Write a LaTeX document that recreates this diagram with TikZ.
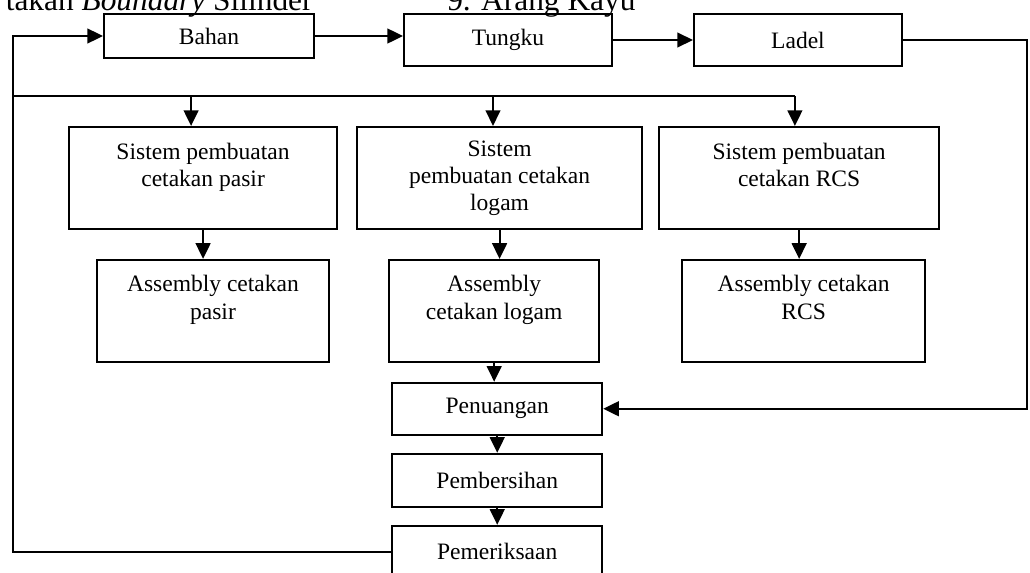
\documentclass[tikz,border=0pt,12pt]{standalone}
\usepackage{fontspec}
\setmainfont{Liberation Serif}
\usepackage{tikz}
\usetikzlibrary{arrows.meta, positioning}
\tikzset{
    boxnode/.style = {draw, rectangle, line width=1pt, fill=none, inner sep=0.2em, 
      node distance=0em, align=center, font=\fontsize{12}{13.8}\selectfont},
    textnode/.style  = {draw=none, fill=none, rectangle, inner sep=0em, 
      node distance=0em, font=\fontsize{16}{19}\selectfont},
    connect/.style = {black, line width=1.1pt, -{Triangle[length=8pt, width=7.5pt]}},
    plainline/.style = {black, line width=1.1pt}
}

\begin{document}
\begin{tikzpicture}
    \useasboundingbox (-8.88em,1.53em) rectangle (34.89em,-22.78em);
    \clip (-8.88em,1.53em) rectangle (34.89em,-22.78em);

    \node [name=judul1, textnode, anchor=base east] at (4.42em,1.1em) {takan \textit{Boundary} Silinder};
    \node [name=judul2, textnode, anchor=base west] at (10.11em,1.1em) {9. Arang Kayu};

    \node [name=bahan, boxnode, minimum width=8.92em, minimum height=1.87em] at (0,0) {Bahan};
    \node [name=tungku, boxnode, minimum width=8.84em, minimum height=2.21em, 
        right of = bahan, xshift=12.71em, yshift=-0.17em] {Tungku};
    \node [name=ladel, boxnode, minimum width=8.84em, minimum height=2.25em, 
        right of = tungku, xshift=12.32em] {Ladel};

    \node [name=sislogam, boxnode, minimum width=12.11em, minimum height=4.33em, 
        below of = tungku, xshift=-0.36em, yshift=-5.86em] {Sistem\\pembuatan cetakan\\logam};
    \node [name=sispasir, boxnode, minimum width=11.39em, minimum height=4.33em, 
        left of = sislogam, xshift=-12.6em] {Sistem pembuatan\\cetakan pasir\\~};
    \node [name=sisrcs, boxnode, minimum width=11.9em, minimum height=4.33em, 
        right of = sislogam, xshift=12.73em] {Sistem pembuatan\\cetakan RCS\\~};

    \node [name=asmpasir, boxnode, minimum width=9.86em, minimum height=4.33em, 
        below of = sispasir, xshift=0.42em, yshift=-5.65em] {Assembly cetakan\\pasir\\~};
    \node [name=asmlogam, boxnode, minimum width=8.92em, minimum height=4.33em, 
        below of = sislogam, xshift=-0.23em, yshift=-5.65em] {Assembly\\cetakan logam\\~};
    \node [name=asmrcs, boxnode, minimum width=10.33em, minimum height=4.33em, 
        below of = sisrcs, xshift=0.19em, yshift=-5.65em] {Assembly cetakan\\RCS\\~};

    \node [name=penuangan, boxnode, minimum width=8.92em, minimum height=2.21em, 
        below of = asmlogam, xshift=0.13em, yshift=-4.16em] {Penuangan};
    \node [name=pembersihan, boxnode, minimum width=8.92em, minimum height=2.25em, 
        below of = penuangan, yshift=-3.04em] {Pembersihan};
    \node [name=pemeriksaan, boxnode, minimum width=8.92em, minimum height=2.21em, 
        below of = pembersihan, yshift=-3.04em] {Pemeriksaan};

    \coordinate (lkiri) at (-8.33em,-2.55em);
    \coordinate (lpasir) at (-0.76em,-2.55em);
    \coordinate (llogam) at (12.07em,-2.55em);
    \coordinate (lrcs) at (24.9em,-2.55em);
    \coordinate (kanan) at (34.76em,0);

    \draw [connect] (bahan.east) -- (bahan.east -| tungku.west);
    \draw [connect] (tungku.east) -- (tungku.east -| ladel.west);
    \draw [connect] (ladel.east) -- (ladel.east -| kanan) |- (penuangan.east);
    \draw [connect] (pemeriksaan.west) -| (lkiri) |- (bahan.west);

    \draw [plainline] (lkiri) -- (lrcs);
    \draw [connect] (lpasir) -- (lpasir |- sispasir.north);
    \draw [connect] (llogam) -- (llogam |- sislogam.north);
    \draw [connect] (lrcs) -- (lrcs |- sisrcs.north);

    \draw [connect] (sispasir.south) -- (sispasir.south |- asmpasir.north);
    \draw [connect] (sislogam.south) -- (sislogam.south |- asmlogam.north);
    \draw [connect] (sisrcs.south) -- (sisrcs.south |- asmrcs.north);
    \draw [connect] (asmlogam.south) -- (asmlogam.south |- penuangan.north);
    \draw [connect] (penuangan) -- (pembersihan);
    \draw [connect] (pembersihan) -- (pemeriksaan);
\end{tikzpicture}
\end{document}
